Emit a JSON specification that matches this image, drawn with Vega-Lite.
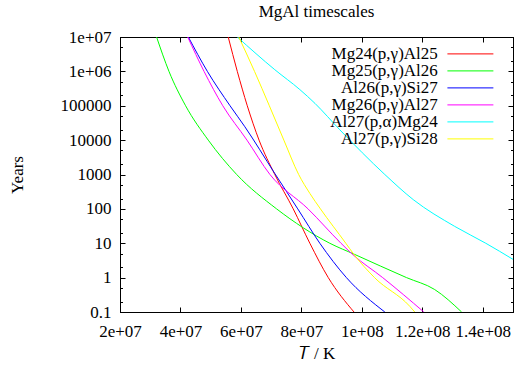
{
  "$schema": "https://vega.github.io/schema/vega-lite/v6.json",
  "width": 393,
  "height": 275,
  "autosize": {"type": "none"},
  "padding": {"left": 120, "top": 37, "right": 1, "bottom": 57},
  "background": "white",
  "title": {"text": "MgAl timescales", "font": "Liberation Serif", "fontSize": 17, "fontWeight": "normal", "color": "black", "offset": 7},
  "data": {"values": [
    {"series": "Mg24(p,γ)Al25", "T": 5.58e7, "years": 1e7},
    {"series": "Mg24(p,γ)Al25", "T": 5.88e7, "years": 1e6},
    {"series": "Mg24(p,γ)Al25", "T": 6.21e7, "years": 1e5},
    {"series": "Mg24(p,γ)Al25", "T": 6.60e7, "years": 1e4},
    {"series": "Mg24(p,γ)Al25", "T": 7.12e7, "years": 1e3},
    {"series": "Mg24(p,γ)Al25", "T": 7.73e7, "years": 100},
    {"series": "Mg24(p,γ)Al25", "T": 8.28e7, "years": 10},
    {"series": "Mg24(p,γ)Al25", "T": 8.89e7, "years": 1},
    {"series": "Mg24(p,γ)Al25", "T": 9.74e7, "years": 0.1},
    {"series": "Mg25(p,γ)Al26", "T": 3.21e7, "years": 1e7},
    {"series": "Mg25(p,γ)Al26", "T": 3.62e7, "years": 1e6},
    {"series": "Mg25(p,γ)Al26", "T": 4.17e7, "years": 1e5},
    {"series": "Mg25(p,γ)Al26", "T": 4.92e7, "years": 1e4},
    {"series": "Mg25(p,γ)Al26", "T": 5.86e7, "years": 1e3},
    {"series": "Mg25(p,γ)Al26", "T": 7.18e7, "years": 100},
    {"series": "Mg25(p,γ)Al26", "T": 8.94e7, "years": 10},
    {"series": "Mg25(p,γ)Al26", "T": 9.77e7, "years": 4.7},
    {"series": "Mg25(p,γ)Al26", "T": 11.48e7, "years": 1},
    {"series": "Mg25(p,γ)Al26", "T": 12.41e7, "years": 0.45},
    {"series": "Mg25(p,γ)Al26", "T": 13.30e7, "years": 0.1},
    {"series": "Al26(p,γ)Si27", "T": 4.26e7, "years": 1e7},
    {"series": "Al26(p,γ)Si27", "T": 4.89e7, "years": 1e6},
    {"series": "Al26(p,γ)Si27", "T": 5.64e7, "years": 1e5},
    {"series": "Al26(p,γ)Si27", "T": 6.13e7, "years": 24500},
    {"series": "Al26(p,γ)Si27", "T": 7.12e7, "years": 1070},
    {"series": "Al26(p,γ)Si27", "T": 7.88e7, "years": 100},
    {"series": "Al26(p,γ)Si27", "T": 8.61e7, "years": 10},
    {"series": "Al26(p,γ)Si27", "T": 9.49e7, "years": 1},
    {"series": "Al26(p,γ)Si27", "T": 10.76e7, "years": 0.1},
    {"series": "Mg26(p,γ)Al27", "T": 4.24e7, "years": 1e7},
    {"series": "Mg26(p,γ)Al27", "T": 4.78e7, "years": 1e6},
    {"series": "Mg26(p,γ)Al27", "T": 5.40e7, "years": 1e5},
    {"series": "Mg26(p,γ)Al27", "T": 6.20e7, "years": 1e4},
    {"series": "Mg26(p,γ)Al27", "T": 6.96e7, "years": 1e3},
    {"series": "Mg26(p,γ)Al27", "T": 8.22e7, "years": 100},
    {"series": "Mg26(p,γ)Al27", "T": 9.31e7, "years": 10},
    {"series": "Mg26(p,γ)Al27", "T": 9.71e7, "years": 4.6},
    {"series": "Mg26(p,γ)Al27", "T": 10.69e7, "years": 1},
    {"series": "Mg26(p,γ)Al27", "T": 12.05e7, "years": 0.1},
    {"series": "Al27(p,α)Mg24", "T": 5.88e7, "years": 1e7},
    {"series": "Al27(p,α)Mg24", "T": 7.12e7, "years": 1.12e6},
    {"series": "Al27(p,α)Mg24", "T": 7.95e7, "years": 2.95e5},
    {"series": "Al27(p,α)Mg24", "T": 8.45e7, "years": 1.17e5},
    {"series": "Al27(p,α)Mg24", "T": 9.27e7, "years": 2.0e4},
    {"series": "Al27(p,α)Mg24", "T": 10.76e7, "years": 1e3},
    {"series": "Al27(p,α)Mg24", "T": 11.70e7, "years": 186},
    {"series": "Al27(p,α)Mg24", "T": 13.07e7, "years": 31},
    {"series": "Al27(p,α)Mg24", "T": 14.10e7, "years": 10},
    {"series": "Al27(p,α)Mg24", "T": 15.0e7, "years": 3.4},
    {"series": "Al27(p,γ)Si28", "T": 5.93e7, "years": 1e7},
    {"series": "Al27(p,γ)Si28", "T": 6.45e7, "years": 1e6},
    {"series": "Al27(p,γ)Si28", "T": 6.94e7, "years": 1e5},
    {"series": "Al27(p,γ)Si28", "T": 7.42e7, "years": 1e4},
    {"series": "Al27(p,γ)Si28", "T": 7.91e7, "years": 1e3},
    {"series": "Al27(p,γ)Si28", "T": 8.28e7, "years": 282},
    {"series": "Al27(p,γ)Si28", "T": 8.63e7, "years": 100},
    {"series": "Al27(p,γ)Si28", "T": 9.47e7, "years": 10},
    {"series": "Al27(p,γ)Si28", "T": 9.71e7, "years": 5.1},
    {"series": "Al27(p,γ)Si28", "T": 10.42e7, "years": 1},
    {"series": "Al27(p,γ)Si28", "T": 11.59e7, "years": 0.145},
    {"series": "Al27(p,γ)Si28", "T": 11.75e7, "years": 0.1}
  ]},
  "layer": [
    {
      "mark": {"type": "line", "strokeWidth": 1, "clip": true, "interpolate": "monotone"},
      "encoding": {
        "x": {"field": "T", "type": "quantitative",
          "scale": {"domain": [2e7, 1.5e8], "nice": false, "zero": false},
          "axis": {"orient": "bottom", "values": [2e7, 4e7, 6e7, 8e7, 1e8, 1.2e8, 1.4e8],
            "labelExpr": "replace(format(datum.value, '~e'), 'e+', 'e+0')",
            "tickSize": -5, "labelPadding": 16, "title": "𝑇 / K", "titlePadding": 6}},
        "y": {"field": "years", "type": "quantitative",
          "scale": {"type": "log", "domain": [0.1, 1e7], "nice": false},
          "axis": {"orient": "left",
            "values": [0.1, 0.2, 0.5, 1, 2, 5, 10, 20, 50, 100, 200, 500, 1000, 2000, 5000, 10000, 20000, 50000, 100000, 200000, 500000, 1000000, 2000000, 5000000, 10000000],
            "labelExpr": "abs(log(datum.value)/LN10 - round(log(datum.value)/LN10)) > 1e-6 ? '' : (datum.value >= 1e6 ? replace(format(datum.value, '~e'), 'e+', 'e+0') : format(datum.value, '~g'))",
            "tickSize": {"condition": {"test": "abs(log(datum.value)/LN10 - round(log(datum.value)/LN10)) > 1e-6", "value": -2.5}, "value": -5},
            "labelPadding": 14, "title": "Years", "titlePadding": 34}},
        "color": {"field": "series", "type": "nominal",
          "scale": {"domain": ["Mg24(p,γ)Al25", "Mg25(p,γ)Al26", "Al26(p,γ)Si27", "Mg26(p,γ)Al27", "Al27(p,α)Mg24", "Al27(p,γ)Si28"],
            "range": ["#ff0000", "#00ff00", "#0000ff", "#ff00ff", "#00ffff", "#ffff00"]},
          "legend": {"orient": "none", "legendX": 341.4, "legendY": 7.9, "title": null,
            "symbolType": "M-2.84,0H2.84", "symbolSize": 262, "symbolStrokeWidth": 1,
            "labelAlign": "right", "labelOffset": -41.6, "labelFont": "Liberation Serif", "labelFontSize": 17,
            "labelColor": "black", "labelLimit": 0, "rowPadding": 0, "padding": 0,
            "encode": {"symbols": {"update": {"stroke": {"scale": "color", "field": "value"}, "fill": {"value": "transparent"}, "strokeWidth": {"value": 1}, "opacity": {"value": 1}, "strokeOpacity": {"value": 1}}}}}}
      }
    },
    {
      "mark": {"type": "line", "strokeOpacity": 0, "clip": true},
      "encoding": {
        "x": {"field": "T", "type": "quantitative",
          "axis": {"orient": "top", "values": [2e7, 4e7, 6e7, 8e7, 1e8, 1.2e8, 1.4e8], "labels": false, "tickSize": -5, "title": null}},
        "y": {"field": "years", "type": "quantitative",
          "axis": {"orient": "right",
            "values": [0.1, 0.2, 0.5, 1, 2, 5, 10, 20, 50, 100, 200, 500, 1000, 2000, 5000, 10000, 20000, 50000, 100000, 200000, 500000, 1000000, 2000000, 5000000, 10000000],
            "labels": false, "title": null,
            "tickSize": {"condition": {"test": "abs(log(datum.value)/LN10 - round(log(datum.value)/LN10)) > 1e-6", "value": -2.5}, "value": -5}}},
        "detail": {"field": "series", "type": "nominal"}
      }
    }
  ],
  "resolve": {"axis": {"x": "independent", "y": "independent"}},
  "config": {
    "view": {"stroke": "black", "strokeWidth": 1},
    "axis": {"grid": false, "domainColor": "black", "tickColor": "black", "labelColor": "black", "titleColor": "black",
      "labelFont": "Liberation Serif", "labelFontSize": 17, "titleFont": "Liberation Serif", "titleFontSize": 17,
      "titleFontWeight": "normal", "tickWidth": 1, "domainWidth": 1, "labelFlush": false, "labelOverlap": false},
    "legend": {"labelFont": "Liberation Serif"}
  }
}
